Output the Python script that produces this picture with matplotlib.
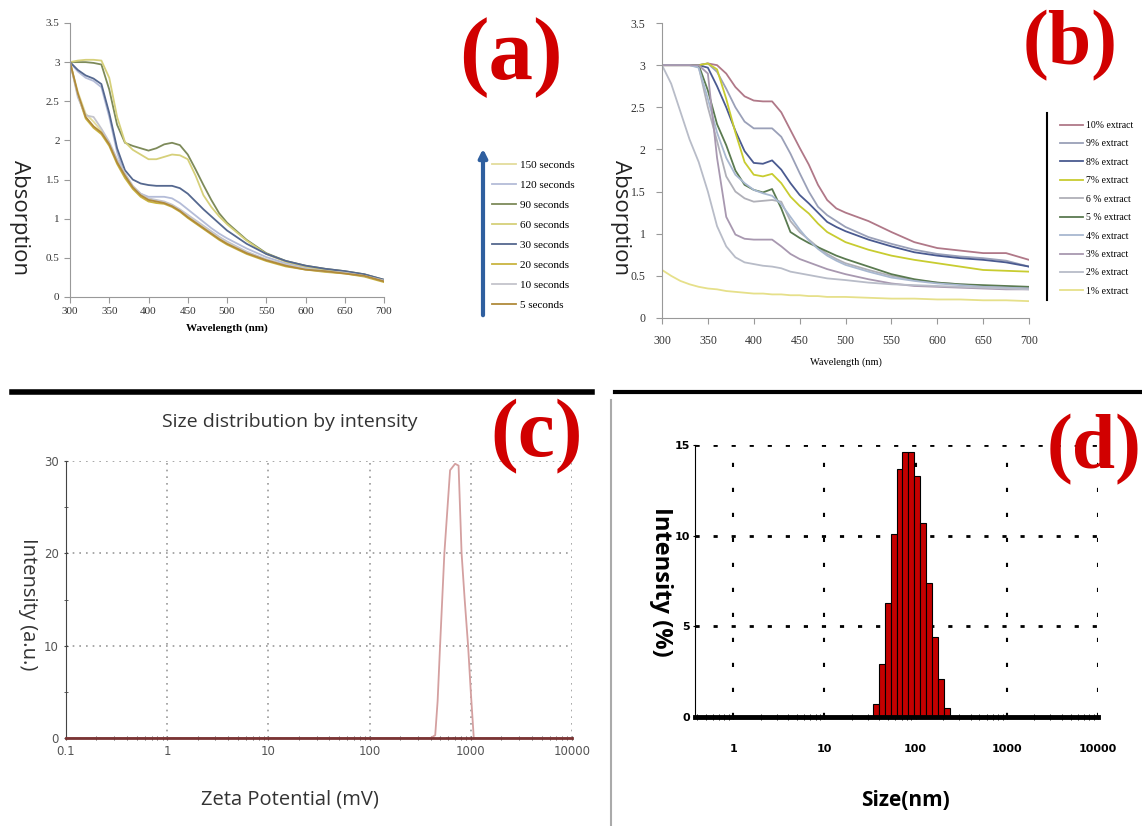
import numpy as np
import matplotlib
matplotlib.use("Agg")
import matplotlib.pyplot as plt
from matplotlib.lines import Line2D
from matplotlib.patches import FancyArrowPatch
from matplotlib.ticker import FuncFormatter, NullFormatter, LogLocator, FixedLocator

# ---------------- data ----------------
# wavelength grid (nm) shared by panels (a) and (b)
wl = [300, 310, 320, 330, 340, 350, 360, 370, 380, 390, 400, 410, 420, 430, 440,
      450, 460, 470, 480, 490, 500, 525, 550, 575, 600, 625, 650, 675, 700]

# (a) absorption vs irradiation time
a_labels = ["150 seconds", "120 seconds", "90 seconds", "60 seconds",
            "30 seconds", "20 seconds", "10 seconds", "5 seconds"]
a_150 = [3.00, 2.62, 2.34, 2.24, 2.12, 1.96, 1.74, 1.56, 1.41, 1.31, 1.25, 1.23, 1.21, 1.17, 1.11,
         1.04, 0.96, 0.89, 0.82, 0.75, 0.69, 0.57, 0.48, 0.41, 0.36, 0.34, 0.31, 0.27, 0.21]
a_120 = [3.00, 2.88, 2.80, 2.76, 2.68, 2.30, 1.85, 1.55, 1.40, 1.32, 1.28, 1.28, 1.28, 1.26, 1.20,
         1.12, 1.04, 0.96, 0.88, 0.81, 0.75, 0.62, 0.51, 0.43, 0.38, 0.35, 0.32, 0.28, 0.21]
a_90 = [3.00, 3.00, 3.00, 2.99, 2.97, 2.65, 2.20, 1.97, 1.93, 1.90, 1.87, 1.90, 1.95, 1.97, 1.94,
        1.82, 1.63, 1.43, 1.24, 1.07, 0.95, 0.73, 0.56, 0.46, 0.40, 0.36, 0.33, 0.29, 0.22]
a_60 = [3.00, 3.02, 3.03, 3.03, 3.02, 2.80, 2.30, 1.98, 1.88, 1.82, 1.76, 1.76, 1.79, 1.82, 1.81,
        1.76, 1.55, 1.30, 1.15, 1.03, 0.93, 0.72, 0.55, 0.45, 0.39, 0.35, 0.32, 0.28, 0.21]
a_30 = [3.00, 2.90, 2.83, 2.79, 2.72, 2.35, 1.90, 1.62, 1.50, 1.45, 1.43, 1.42, 1.42, 1.42, 1.39,
        1.32, 1.22, 1.12, 1.03, 0.94, 0.85, 0.68, 0.55, 0.46, 0.40, 0.36, 0.33, 0.29, 0.22]
a_20 = [3.00, 2.58, 2.28, 2.16, 2.08, 1.93, 1.70, 1.52, 1.38, 1.28, 1.22, 1.20, 1.19, 1.15, 1.09,
        1.01, 0.94, 0.87, 0.80, 0.73, 0.67, 0.55, 0.46, 0.39, 0.35, 0.32, 0.30, 0.26, 0.19]
a_10 = [3.00, 2.55, 2.32, 2.30, 2.15, 1.98, 1.76, 1.58, 1.42, 1.32, 1.26, 1.24, 1.22, 1.18, 1.12,
        1.05, 0.98, 0.91, 0.84, 0.77, 0.71, 0.58, 0.48, 0.41, 0.36, 0.33, 0.31, 0.27, 0.21]
a_5 = [3.00, 2.60, 2.30, 2.18, 2.10, 1.95, 1.72, 1.55, 1.40, 1.30, 1.24, 1.22, 1.20, 1.16, 1.10,
       1.02, 0.95, 0.88, 0.81, 0.74, 0.68, 0.56, 0.47, 0.40, 0.35, 0.33, 0.30, 0.27, 0.20]
a_colors = ["#e3dc9c", "#b4bcd8", "#7d8a5a", "#d6d07a", "#55688f", "#c9b440", "#c4c4cc", "#b08a3a"]

# (b) absorption vs extract concentration
b_labels = ["10% extract", "9% extract", "8% extract", "7% extract", "6 % extract",
            "5 % extract", "4% extract", "3% extract", "2% extract", "1% extract"]
b_10 = [3.0, 3.0, 3.0, 3.0, 3.0, 3.02, 3.0, 2.9, 2.74, 2.63, 2.58, 2.57, 2.57, 2.44, 2.23,
        2.02, 1.82, 1.58, 1.40, 1.30, 1.25, 1.15, 1.02, 0.90, 0.83, 0.80, 0.77, 0.77, 0.69]
b_9 = [3.0, 3.0, 3.0, 3.0, 3.0, 3.02, 2.92, 2.72, 2.5, 2.33, 2.25, 2.25, 2.25, 2.15, 1.95,
       1.72, 1.50, 1.32, 1.22, 1.15, 1.08, 0.96, 0.88, 0.81, 0.76, 0.73, 0.71, 0.68, 0.61]
b_8 = [3.0, 3.0, 3.0, 3.0, 3.0, 2.97, 2.75, 2.5, 2.22, 1.98, 1.84, 1.83, 1.87, 1.76, 1.60,
       1.46, 1.36, 1.25, 1.14, 1.08, 1.03, 0.93, 0.85, 0.78, 0.74, 0.71, 0.69, 0.66, 0.61]
b_7 = [3.0, 3.0, 3.0, 3.0, 3.0, 3.02, 2.95, 2.6, 2.2, 1.85, 1.70, 1.68, 1.71, 1.60, 1.44,
       1.33, 1.24, 1.12, 1.02, 0.96, 0.90, 0.81, 0.74, 0.69, 0.65, 0.61, 0.57, 0.56, 0.55]
b_6 = [3.0, 3.0, 3.0, 3.0, 2.98, 2.5, 2.1, 1.68, 1.50, 1.42, 1.38, 1.39, 1.40, 1.38, 1.15,
       1.02, 0.93, 0.84, 0.76, 0.70, 0.65, 0.57, 0.50, 0.45, 0.42, 0.40, 0.38, 0.37, 0.36]
b_5 = [3.0, 3.0, 3.0, 3.0, 3.0, 2.7, 2.3, 2.05, 1.75, 1.58, 1.52, 1.49, 1.53, 1.30, 1.02,
       0.95, 0.89, 0.84, 0.79, 0.74, 0.70, 0.61, 0.52, 0.46, 0.42, 0.40, 0.39, 0.38, 0.37]
b_4 = [3.0, 3.0, 3.0, 3.0, 2.97, 2.6, 2.2, 1.9, 1.7, 1.6, 1.52, 1.48, 1.45, 1.35, 1.20,
       1.05, 0.92, 0.82, 0.74, 0.68, 0.63, 0.55, 0.48, 0.44, 0.41, 0.39, 0.37, 0.36, 0.35]
b_3 = [3.0, 3.0, 3.0, 3.0, 3.0, 2.9, 1.9, 1.2, 0.99, 0.94, 0.93, 0.93, 0.93, 0.85, 0.76,
       0.70, 0.66, 0.62, 0.58, 0.55, 0.52, 0.46, 0.41, 0.38, 0.37, 0.36, 0.35, 0.34, 0.34]
b_2 = [3.0, 2.78, 2.45, 2.12, 1.85, 1.50, 1.09, 0.85, 0.72, 0.66, 0.64, 0.62, 0.61, 0.59, 0.55,
       0.53, 0.51, 0.49, 0.47, 0.46, 0.45, 0.42, 0.40, 0.39, 0.38, 0.37, 0.36, 0.35, 0.34]
b_1 = [0.57, 0.50, 0.44, 0.40, 0.37, 0.35, 0.34, 0.32, 0.31, 0.30, 0.29, 0.29, 0.28, 0.28, 0.27,
       0.27, 0.26, 0.26, 0.25, 0.25, 0.25, 0.24, 0.23, 0.23, 0.22, 0.22, 0.21, 0.21, 0.20]
b_colors = ["#b07888", "#9aa0b8", "#4a5a90", "#c8cc30", "#b0b0b8",
            "#5a7a50", "#a8b8d0", "#a898b0", "#b8bcc8", "#e6e08a"]

# (c) zeta potential distribution
c_mv = [0.1, 400, 445, 470, 497, 548, 624, 700, 757, 811, 870, 940, 1000, 1070, 10000]
c_int = [0, 0, 0.3, 4, 10, 20, 29, 29.7, 29.5, 20, 15, 10, 5, 0, 0]

# (d) DLS size histogram (bin edges in nm, intensity %)
d_edges = [34.0, 39.5, 45.6, 53.1, 61.8, 71.4, 83.2, 96.8, 111, 130, 151, 176, 203, 237]
d_int = [0.7, 2.9, 6.3, 10.1, 13.7, 14.6, 14.6, 13.3, 10.7, 7.4, 4.4, 2.1, 0.5]

W, H = 1142, 826
fig = plt.figure(figsize=(W / 100, H / 100), dpi=100)


def rect(x0, y0, x1, y1):
    # pixel box (top-left origin) -> figure fraction
    return [x0 / W, 1 - y1 / H, (x1 - x0) / W, (y1 - y0) / H]


def ftext(x, y, s, **kw):
    # text placed by pixel position (top-left origin)
    return fig.text(x / W, 1 - y / H, s, ha="center", va="center", **kw)


def style_spectrum(ax, size, pad):
    for s in ["top", "right"]:
        ax.spines[s].set_visible(False)
    for s in ["left", "bottom"]:
        ax.spines[s].set_color("#999999")
    ax.tick_params(direction="out", length=4, color="#999999", labelsize=size, labelcolor="#333333", pad=pad)
    ax.set_xlim(300, 700)
    ax.set_ylim(0, 3.5)
    ax.set_xticks(range(300, 701, 50))
    ax.set_yticks(np.arange(0, 3.51, 0.5))
    ax.yaxis.set_major_formatter(FuncFormatter(lambda v, p: "%g" % v))
    for lab in ax.get_xticklabels() + ax.get_yticklabels():
        lab.set_family("Liberation Serif")


# ---------------- (a) ----------------
ax_a = fig.add_axes(rect(70, 23, 384, 297))
a_series = [a_150, a_120, a_90, a_60, a_30, a_20, a_10, a_5]
for ys, c, lab in zip(a_series, a_colors, a_labels):
    ax_a.plot(wl, ys, color=c, lw=1.3, label=lab)
style_spectrum(ax_a, 8, 3.5)
ax_a.set_xlabel("Wavelength (nm)", family="Liberation Serif", fontsize=8, fontweight="bold", labelpad=5)
ftext(19, 218, "Absorption", family="Open Sans", fontsize=16, rotation=270, color="#222222")
ax_a.legend(loc="upper left", bbox_to_anchor=(492 / W, 1 - 160 / H), bbox_transform=fig.transFigure,
            frameon=False, prop={"family": "Liberation Serif", "size": 8},
            handlelength=2.2, labelspacing=0.92, borderaxespad=0, borderpad=0, handletextpad=0.3)
fig.add_artist(FancyArrowPatch((483 / W, 1 - 318 / H), (483 / W, 1 - 146 / H), transform=fig.transFigure,
                               arrowstyle="-|>", mutation_scale=12, color="#2f5f9f", lw=3))

# ---------------- (b) ----------------
ax_b = fig.add_axes(rect(662, 23, 1029, 318))
b_series = [b_10, b_9, b_8, b_7, b_6, b_5, b_4, b_3, b_2, b_1]
for ys, c, lab in zip(b_series, b_colors, b_labels):
    ax_b.plot(wl, ys, color=c, lw=1.3, label=lab)
style_spectrum(ax_b, 8.5, 8)
ax_b.set_xlabel("Wavelength (nm)", family="Liberation Serif", fontsize=7.5, labelpad=8)
ftext(620, 218, "Absorption", family="Open Sans", fontsize=16, rotation=270, color="#222222")
ax_b.legend(loc="upper left", bbox_to_anchor=(1060 / W, 1 - 121 / H), bbox_transform=fig.transFigure,
            frameon=False, prop={"family": "Liberation Serif", "size": 7},
            handlelength=2.4, labelspacing=0.97, borderaxespad=0, borderpad=0, handletextpad=0.3)
fig.add_artist(Line2D([1047 / W] * 2, [1 - 113 / H, 1 - 300 / H], transform=fig.transFigure,
                      color="black", lw=1.5))

# ---------------- separators ----------------
fig.add_artist(Line2D([12 / W, 592 / W], [1 - 392 / H] * 2, transform=fig.transFigure, color="black", lw=4))
fig.add_artist(Line2D([615 / W, 1.0], [1 - 392 / H] * 2, transform=fig.transFigure, color="black", lw=3))
fig.add_artist(Line2D([611 / W] * 2, [1 - 400 / H, 0], transform=fig.transFigure, color="#aaaaaa", lw=1.5))

# ---------------- (c) ----------------
ax_c = fig.add_axes(rect(66, 461, 572, 738))
ax_c.plot(c_mv, c_int, color="#d4a0a0", lw=1.3)
ax_c.set_xscale("log")
ax_c.set_xlim(0.1, 10000)
ax_c.set_ylim(0, 30)
ax_c.set_yticks([0, 10, 20, 30])
ax_c.yaxis.set_minor_locator(FixedLocator([5, 15, 25]))
ax_c.xaxis.set_major_formatter(FuncFormatter(lambda v, p: "%g" % v))
ax_c.xaxis.set_minor_locator(LogLocator(base=10, subs=np.arange(2, 10)))
ax_c.xaxis.set_minor_formatter(NullFormatter())
ax_c.grid(True, which="major", linestyle=(0, (1, 3)), color="#999999", lw=1.2)
for s in ["top", "right"]:
    ax_c.spines[s].set_visible(False)
ax_c.spines["left"].set_color("#444444")
ax_c.spines["bottom"].set_color("#7a3434")
ax_c.spines["bottom"].set_linewidth(2)
ax_c.tick_params(which="both", direction="inout", labelsize=8.5, labelcolor="#555555", color="#444444")
ax_c.tick_params(which="minor", length=3)
ftext(290, 422, "Size distribution by intensity", family="Open Sans", fontsize=14, color="#333333")
ftext(290, 800, "Zeta Potential (mV)", family="Open Sans", fontsize=14.5, color="#333333")
ftext(28, 604, "Intensity (a.u.)", family="Open Sans", fontsize=14.5, color="#333333", rotation=270)

# ---------------- (d) ----------------
ax_d = fig.add_axes(rect(695, 445, 1098, 717))
ax_d.bar(d_edges[:-1], d_int, width=np.diff(d_edges), align="edge",
         color="#c40000", edgecolor="black", lw=0.8, zorder=3)
ax_d.set_xscale("log")
ax_d.set_xlim(0.38, 10000)
ax_d.set_ylim(0, 15)
ax_d.set_yticks([0, 5, 10, 15])
ax_d.xaxis.set_major_locator(FixedLocator([1, 10, 100, 1000, 10000]))
ax_d.xaxis.set_major_formatter(FuncFormatter(lambda v, p: "%g" % v))
ax_d.xaxis.set_minor_locator(LogLocator(base=10, subs=np.arange(2, 10)))
ax_d.xaxis.set_minor_formatter(NullFormatter())
ax_d.grid(True, axis="y", linestyle=(0, (1.5, 5)), color="black", lw=2, zorder=1)
ax_d.grid(True, axis="x", linestyle=(0, (2, 10)), color="black", lw=1.5, zorder=1)
for s in ["top", "right"]:
    ax_d.spines[s].set_visible(False)
ax_d.spines["bottom"].set_linewidth(3.5)
ax_d.spines["bottom"].set_zorder(4)
ax_d.tick_params(which="both", direction="inout", labelsize=8, color="black")
ax_d.tick_params(axis="x", pad=18)
ax_d.tick_params(axis="y", pad=2)
ax_d.tick_params(which="minor", length=4)
for lab in ax_d.get_xticklabels() + ax_d.get_yticklabels():
    lab.set_fontweight("bold")
ftext(905, 800, "Size(nm)", family="Open Sans", fontsize=15, fontweight="bold")
ftext(661, 582, "Intensity (%)", family="Open Sans", fontsize=17, fontweight="bold", rotation=270)

# ---------------- panel letters ----------------
for txt, x, y, fs in [("(a)", 511, 58, 64), ("(b)", 1070, 46, 56), ("(c)", 537, 437, 60), ("(d)", 1094, 450, 56)]:
    ftext(x, y, txt, family="Liberation Serif", fontweight="bold", fontsize=fs, color="#d10000")

fig.savefig("out.png", dpi=100)
